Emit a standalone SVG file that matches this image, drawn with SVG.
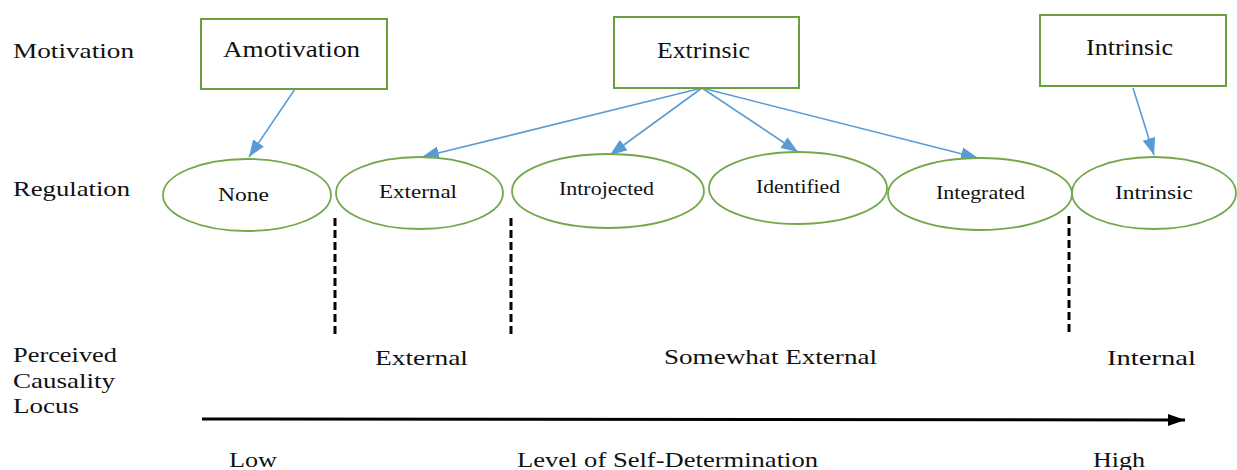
<svg xmlns="http://www.w3.org/2000/svg" width="1237" height="470" viewBox="0 0 1237 470" font-family="'Liberation Serif', 'Times New Roman', serif">
<style>
  text { font-family: "Liberation Serif", "Times New Roman", serif; fill: #111111; }
  .lbl { font-size: 22px; }
  .box { fill: #ffffff; stroke: #6a9f3f; stroke-width: 2; }
  .ell { fill: #ffffff; stroke: #73a84a; stroke-width: 1.8; }
  .btxt { font-size: 23px; text-anchor: middle; }
  .etxt { font-size: 19px; text-anchor: middle; }
  .conn { stroke: #5b9bd5; stroke-width: 1.6; fill: none; marker-end: url(#blueArrow); }
  .dash { stroke: #000000; stroke-width: 3; stroke-dasharray: 8 4; fill: none; }
</style>
<defs>
  <marker id="blueArrow" markerUnits="userSpaceOnUse" markerWidth="18" markerHeight="16" viewBox="0 0 18 16" refX="17" refY="8" orient="auto">
    <path d="M0,1.5 L17,8 L0,14.5 Z" fill="#5b9bd5"/>
  </marker>
  <marker id="blackArrow" markerUnits="userSpaceOnUse" markerWidth="18" markerHeight="14" viewBox="0 0 18 14" refX="17" refY="7" orient="auto">
    <path d="M0,1 L17,7 L0,13 Z" fill="#000000"/>
  </marker>
</defs>
<rect width="1237" height="470" fill="#ffffff"/>

<g id="row-labels">
  <text class="lbl" x="13" y="58" textLength="121" lengthAdjust="spacingAndGlyphs">Motivation</text>
  <text class="lbl" x="13" y="196" textLength="117" lengthAdjust="spacingAndGlyphs">Regulation</text>
  <text class="lbl" x="13" y="362" textLength="104" lengthAdjust="spacingAndGlyphs">Perceived</text>
  <text class="lbl" x="13" y="388" textLength="102" lengthAdjust="spacingAndGlyphs">Causality</text>
  <text class="lbl" x="13" y="413" textLength="66" lengthAdjust="spacingAndGlyphs">Locus</text>
</g>

<g id="connectors">
  <line class="conn" x1="295" y1="89" x2="249" y2="157"/>
  <line class="conn" x1="702" y1="88" x2="422" y2="157"/>
  <line class="conn" x1="702" y1="88" x2="610" y2="155"/>
  <line class="conn" x1="702" y1="88" x2="798" y2="152"/>
  <line class="conn" x1="702" y1="88" x2="978" y2="158"/>
  <line class="conn" x1="1133" y1="88" x2="1154" y2="155"/>
  <line class="dash" x1="335" y1="218" x2="335" y2="337"/>
  <line class="dash" x1="511" y1="218" x2="511" y2="337"/>
  <line class="dash" x1="1069" y1="216" x2="1069" y2="335"/>
  <line x1="202" y1="419" x2="1185" y2="420" stroke="#000000" stroke-width="3" marker-end="url(#blackArrow)"/>
</g>

<g id="node-amotivation">
  <rect class="box" x="201" y="19" width="186" height="70"/>
  <text class="btxt" x="291.5" y="57" font-size="24" textLength="137" lengthAdjust="spacingAndGlyphs">Amotivation</text>
</g>
<g id="node-extrinsic">
  <rect class="box" x="614" y="17" width="185" height="71"/>
  <text class="btxt" x="703.5" y="58" textLength="93" lengthAdjust="spacingAndGlyphs">Extrinsic</text>
</g>
<g id="node-intrinsic">
  <rect class="box" x="1040" y="15" width="186" height="71"/>
  <text class="btxt" x="1129.5" y="55" textLength="87" lengthAdjust="spacingAndGlyphs">Intrinsic</text>
</g>

<g id="node-none">
  <ellipse class="ell" cx="247" cy="195" rx="84" ry="36"/>
  <text class="etxt" x="243.5" y="201" textLength="51" lengthAdjust="spacingAndGlyphs">None</text>
</g>
<g id="node-external">
  <ellipse class="ell" cx="419.5" cy="193" rx="83.5" ry="36"/>
  <text class="etxt" x="418" y="198" textLength="78" lengthAdjust="spacingAndGlyphs">External</text>
</g>
<g id="node-introjected">
  <ellipse class="ell" cx="608" cy="191" rx="96" ry="37"/>
  <text class="etxt" x="606.5" y="195" textLength="95" lengthAdjust="spacingAndGlyphs">Introjected</text>
</g>
<g id="node-identified">
  <ellipse class="ell" cx="798" cy="188" rx="89" ry="36"/>
  <text class="etxt" x="798" y="193" textLength="84" lengthAdjust="spacingAndGlyphs">Identified</text>
</g>
<g id="node-integrated">
  <ellipse class="ell" cx="980" cy="194" rx="92" ry="36"/>
  <text class="etxt" x="980.5" y="199" textLength="89" lengthAdjust="spacingAndGlyphs">Integrated</text>
</g>
<g id="node-intrinsic-reg">
  <ellipse class="ell" cx="1154" cy="193" rx="82" ry="36"/>
  <text class="etxt" x="1154" y="199" textLength="78" lengthAdjust="spacingAndGlyphs">Intrinsic</text>
</g>

<g id="locus-labels">
  <text class="lbl" x="375" y="365" font-size="20" textLength="93" lengthAdjust="spacingAndGlyphs">External</text>
  <text class="lbl" x="664" y="364" textLength="213" lengthAdjust="spacingAndGlyphs">Somewhat External</text>
  <text class="lbl" x="1107" y="365" textLength="89" lengthAdjust="spacingAndGlyphs">Internal</text>
</g>

<g id="scale-labels">
  <text class="lbl" x="229" y="467" textLength="48" lengthAdjust="spacingAndGlyphs">Low</text>
  <text class="lbl" x="517" y="467" font-size="23" textLength="301" lengthAdjust="spacingAndGlyphs">Level of Self-Determination</text>
  <text class="lbl" x="1093" y="467" textLength="52" lengthAdjust="spacingAndGlyphs">High</text>
</g>
</svg>
